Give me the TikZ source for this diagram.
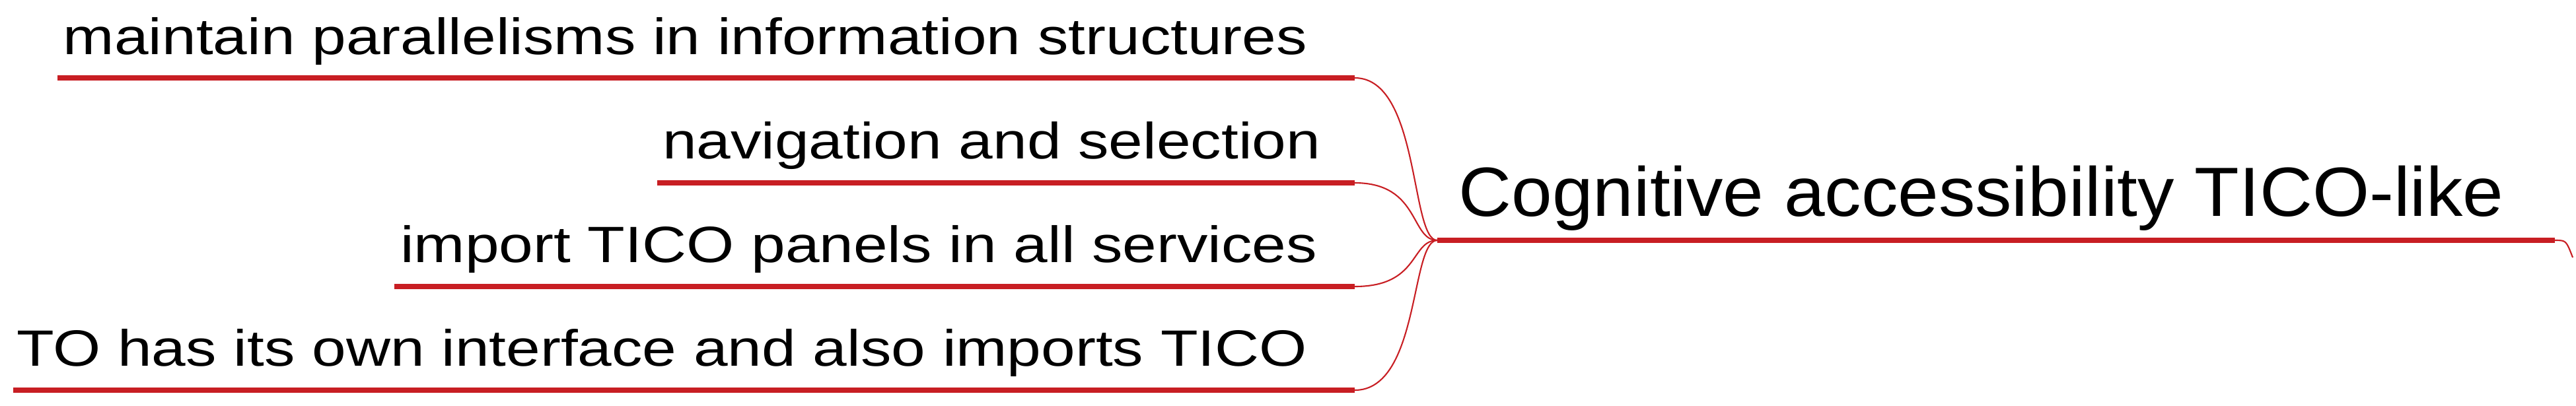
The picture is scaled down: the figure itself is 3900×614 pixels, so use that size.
\documentclass[tikz,border=0pt]{standalone}
\usepackage{fontspec}
\setmainfont{Liberation Sans}
\definecolor{mmred}{RGB}{200,30,35}
\begin{document}
\begin{tikzpicture}[x=0.01cm,y=-0.01cm,
  leaf/.style={anchor=base east,inner sep=0pt,xscale=1.2,font=\fontsize{22}{26}\selectfont},
  root/.style={anchor=base west,inner sep=0pt,xscale=1.05,font=\fontsize{30}{36}\selectfont},
  uline/.style={draw=mmred,line width=2.3pt},
  conn/.style={draw=mmred,line width=0.6pt}]
\useasboundingbox (0,0) rectangle (3900,614);
\node[leaf] (t1) at (1980,82) {maintain parallelisms in information structures};
\node[leaf] (t2) at (2000,240) {navigation and selection};
\node[leaf] (t3) at (1995,397) {import TICO panels in all services};
\node[leaf] (t4) at (1980,554) {TO has its own interface and also imports TICO};
\node[root] (r) at (2208,327) {Cognitive accessibility TICO-like};
\coordinate (a1) at (87,118);  \coordinate (b1) at (2051,118);
\coordinate (a2) at (995,277); \coordinate (b2) at (2051,277);
\coordinate (a3) at (597,434); \coordinate (b3) at (2051,434);
\coordinate (a4) at (20,591);  \coordinate (b4) at (2051,591);
\coordinate (j) at (2176,364);
\coordinate (re) at (3868,364);
\coordinate (rt) at (3895,390);
\foreach \i in {1,2,3,4}{
  \draw[uline] (a\i) -- (b\i);
  \draw[conn] (b\i) .. controls (2150,{\i==1?118:(\i==2?277:(\i==3?434:591))}) and (2135,364) .. (j);
}
\draw[uline] (j) -- (re);
\draw[conn] (re) .. controls (3885,364) .. (rt);
\end{tikzpicture}
\end{document}
